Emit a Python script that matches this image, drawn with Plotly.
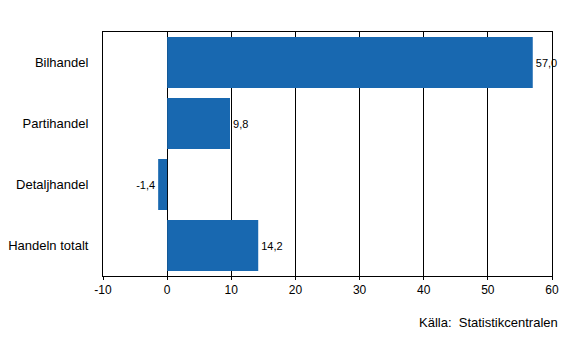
import plotly.graph_objects as go

categories = ["Bilhandel", "Partihandel", "Detaljhandel", "Handeln totalt"]
values = [57.0, 9.8, -1.4, 14.2]
labels = ["57,0", "9,8", "-1,4", "14,2"]
x_ticks = [-10, 0, 10, 20, 30, 40, 50, 60]

fig = go.Figure(go.Bar(
    y=categories, x=values, orientation="h",
    marker=dict(color="#1868B0", line=dict(width=0)),
    text=labels, textposition="outside", cliponaxis=False,
    textfont=dict(family="Liberation Sans, Arial", size=11, color="black"),
    hoverinfo="skip",
))

fig.update_layout(
    width=567, height=362,
    margin=dict(l=103, r=15, t=32, b=86),
    paper_bgcolor="white", plot_bgcolor="white",
    bargap=0.164, showlegend=False,
    font=dict(family="Liberation Sans, Arial", size=12, color="black"),
    xaxis=dict(
        range=[-10, 60], tickvals=x_ticks, ticktext=[str(v) for v in x_ticks],
        showgrid=True, gridcolor="black", gridwidth=1,
        zeroline=False, showline=True, linecolor="black", linewidth=1,
        mirror=True, ticks="outside", ticklen=3, tickcolor="black",
        tickfont=dict(size=12), automargin=False,
    ),
    yaxis=dict(
        range=[3.5, -0.5], showgrid=False, zeroline=False,
        showline=True, linecolor="black", linewidth=1, mirror=True,
        ticks="", ticklabelstandoff=11, tickfont=dict(size=13),
        automargin=False,
    ),
    annotations=[dict(
        text="Källa:  Statistikcentralen", xref="paper", yref="paper",
        x=1.018, y=-0.189, xanchor="right", yanchor="middle", showarrow=False,
        font=dict(size=13),
    )],
)

fig.write_html(
    "out.html",
    config={"displayModeBar": False},
    post_script="document.body.style.margin='0';document.body.style.overflow='hidden';",
)
